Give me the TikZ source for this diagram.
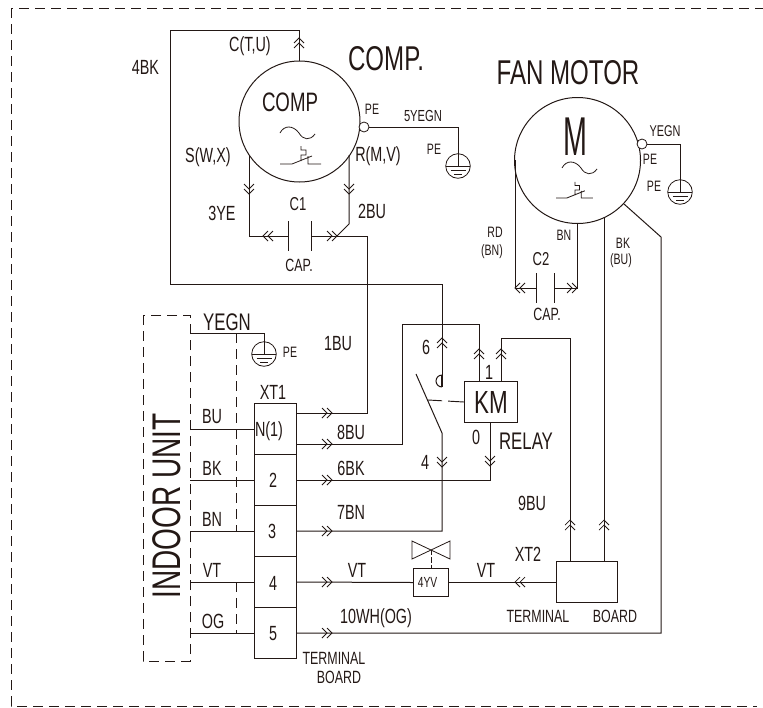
\documentclass[tikz,border=0pt]{standalone}
\usepackage{fontspec}
\setmainfont[FakeStretch=0.7]{Liberation Sans}
\definecolor{ink}{HTML}{231815}
\tikzset{
  x=0.75pt,y=-0.75pt,
  wire/.style={draw=ink,line width=0.75pt},
  dash wire/.style={draw=ink,line width=0.65pt,dash pattern=on 7.5pt off 4.5pt},
  box/.style={draw=ink,line width=0.75pt,fill=white,inner sep=0pt,minimum width=0pt},
  lab/.style={text=ink,inner sep=0pt,font=\fontsize{15.4}{17}\selectfont},
  small/.style={text=ink,inner sep=0pt,font=\fontsize{11.3}{13}\selectfont},
  term/.style={text=ink,inner sep=0pt,font=\fontsize{13.3}{15}\selectfont},
  big/.style={text=ink,inner sep=0pt,font=\fontsize{25.8}{28}\selectfont},
  chev/.pic={\draw[ink,line width=0.55pt] (-5,-5)--(0,0)--(-5,5) (-10,-5)--(-5,0)--(-10,5);},
  gnd/.pic={
    \draw[ink,line width=0.6pt] (0,0) circle (12.3);
    \draw[ink,line width=0.6pt] (-12,0)--(12,0) (-7.5,4)--(7.5,4) (-4,8)--(4,8);
    \draw[ink,line width=0.6pt] (0,-14)--(0,0);},
  thermal/.pic={
    \draw[ink,line width=0.6pt] (0,0)--(12,0)--(32,-8) (28,-8)--(28,0)--(41,0)
      (21,-18)--(21,-14)--(26,-14)--(26,-9)--(21,-9)--(21,-3);},
  wave/.pic={
    \draw[ink,line width=0.6pt] (0,0) .. controls (4,-8) and (13,-8) .. (19,0) .. controls (23,7) and (30,8) .. (35,1);},
}
\begin{document}
\begin{tikzpicture}
\useasboundingbox (0,0) rectangle (763,707);
% outer border (open on the right)
\coordinate (bt) at (763,8);
\coordinate (btl) at (11,8);
\coordinate (bbl) at (11,706);
\coordinate (bb) at (757,706);
\draw[dash wire,dash phase=6pt] (btl)--(bt);
\draw[dash wire] (btl)--(bbl)--(bb);
% compressor
\node[circle,draw=ink,line width=0.75pt,minimum size=90.75pt,inner sep=0pt] (comp) at (299.5,121.5) {};
\node[big,font=\fontsize{20}{22}\selectfont] (comptxt) at (290,102) {COMP};
\pic at (280,133) {wave};
\pic at (280,164) {thermal};
\node[circle,draw=ink,fill=white,line width=0.6pt,minimum size=7.5pt,inner sep=0pt] (comppe) at (364,127) {};
\coordinate (cgnd) at (458,166);
\coordinate (cgndtop) at (458,127);
\pic at (cgnd) {gnd};
\draw[wire] (comppe) -- (cgndtop) -- (cgnd);
% 4BK
\coordinate (ctop) at (299,61);
\coordinate (a1) at (299,30.5);
\coordinate (a2) at (170,30.5);
\coordinate (a3) at (170,284);
\coordinate (a4) at (442,284);
\coordinate (a5) at (442,387);
\draw[wire] (ctop)--(a1)--(a2)--(a3)--(a4)--(a5);
\pic[rotate=90] at (299,38) {chev};
\draw[ink,line width=0.75pt] (442,387) arc[start angle=90,end angle=270,radius=6];
\draw[ink,line width=1.1pt] (442,375)--(442,387);
% C1
\coordinate (s1) at (249,155);
\coordinate (s2) at (249,236);
\coordinate (p1) at (288,236);
\coordinate (p2) at (311,236);
\coordinate (r1) at (349,155);
\coordinate (r2) at (349,224);
\coordinate (r3) at (337,236);
\coordinate (b1) at (367,236);
\coordinate (b2) at (367,413);
\coordinate (t1a) at (296,413);
\draw[wire] (s1)--(s2)--(p1);
\draw[wire] (288,221)--(288,251) (311,221)--(311,251);
\draw[wire] (p2)--(b1)--(b2)--(t1a);
\draw[wire] (r1)--(r2)--(r3);
\pic[rotate=-90] at (249,194) {chev};
\pic[rotate=-90] at (349,194) {chev};
\pic[rotate=180] at (263,236) {chev};
\pic at (337,236) {chev};
% fan motor
\node[circle,draw=ink,line width=0.75pt,minimum size=94.5pt,inner sep=0pt] (fan) at (577.5,160.5) {};
\node[text=ink,inner sep=0pt,font=\fontsize{41}{44}\selectfont,transform shape,xscale=0.75] (fantxt) at (575,137) {M};
\pic at (562,168) {wave};
\pic[scale=0.9] at (556,198) {thermal};
\node[circle,draw=ink,fill=white,line width=0.6pt,minimum size=7.5pt,inner sep=0pt] (fanpe) at (642,144) {};
\coordinate (fgnd) at (680,192);
\coordinate (fgndtop) at (680,144);
\pic at (fgnd) {gnd};
\draw[wire] (fanpe)--(fgndtop)--(fgnd);
\coordinate (f1) at (515,160);
\coordinate (f2) at (515,288);
\coordinate (f3) at (536,288);
\coordinate (f4) at (554,288);
\coordinate (f5) at (577,288);
\coordinate (f6) at (577,224);
\draw[wire] (f1)--(f2)--(f3) (f4)--(f5)--(f6);
\draw[wire] (536,273)--(536,303) (554,273)--(554,303);
\pic[rotate=180] at (515,288) {chev};
\pic at (577,288) {chev};
% indoor unit
\draw[dash wire] (143,315) rectangle (190,661);
\coordinate (igt) at (190,333);
\coordinate (igc) at (264,333);
\coordinate (ignd) at (264,354);
\pic at (ignd) {gnd};
\draw[wire] (igt)--(igc)--(ignd);
\draw[dash wire] (236,333)--(236,531) (236,582)--(236,633);
% terminal block
\node[box,minimum width=31.5pt,minimum height=38.25pt,anchor=north west] (t1) at (254,403) {};
\node[box,minimum width=31.5pt,minimum height=38.25pt,anchor=north west] (t2) at (254,454) {};
\node[box,minimum width=31.5pt,minimum height=38.25pt,anchor=north west] (t3) at (254,505) {};
\node[box,minimum width=31.5pt,minimum height=38.25pt,anchor=north west] (t4) at (254,556) {};
\node[box,minimum width=31.5pt,minimum height=38.25pt,anchor=north west] (t5) at (254,607) {};
\foreach \yy/\nm in {429/t1,480/t2,531/t3,582/t4,633/t5}
  \draw[wire] (190,\yy)--(\nm.west|-0,\yy);
\foreach \yy in {413,444,480,531,582,633}
  \pic at (332,\yy) {chev};
% relay
\node[box,minimum width=39.75pt,minimum height=30.75pt,anchor=north west] (km) at (464,381) {};
\node[text=ink,inner sep=0pt,font=\fontsize{24}{26}\selectfont] at (km) {KM};
\coordinate (e1) at (296,444);
\coordinate (e2) at (402,444);
\coordinate (e3) at (402,324);
\coordinate (e4) at (479,324);
\coordinate (e5) at (479,381);
\draw[wire] (e1)--(e2)--(e3)--(e4)--(e5);
\coordinate (n1) at (501,381);
\coordinate (n2) at (501,338);
\coordinate (n3) at (570,338);
\coordinate (n4) at (570,561);
\draw[wire] (n1)--(n2)--(n3)--(n4);
\pic[rotate=90] at (442,338) {chev};
\pic[rotate=90] at (479,349) {chev};
\pic[rotate=90] at (501,349) {chev};
\coordinate (k1) at (296,480);
\coordinate (k2) at (490,480);
\coordinate (k3) at (490,422);
\draw[wire] (k1)--(k2)--(k3);
\pic[rotate=-90] at (490,466) {chev};
\coordinate (g1) at (296,531);
\coordinate (g2) at (442,531);
\coordinate (g3) at (442,433);
\coordinate (g4) at (416,374);
\draw[wire] (g1)--(g2)--(g3)--(g4);
\pic[rotate=-90] at (442,467) {chev};
\coordinate (sw) at (428,400);
\draw[ink,line width=0.7pt,dash pattern=on 12pt off 4.5pt] (km.west)--(sw);
% valve
\node[box,minimum width=26.25pt,minimum height=21pt,anchor=north west] (yv) at (413,568) {};
\node[text=ink,inner sep=0pt,font=\fontsize{11}{12}\selectfont] at (427.5,582) {4YV};
\coordinate (vc) at (431,550);
\draw[wire,line width=0.6pt] (412,541)--(450,559)--(450,541)--(412,559)--cycle;
\draw[ink,line width=0.6pt,dash pattern=on 4pt off 1.5pt] (vc)--(431,568);
\node[box,minimum width=45.75pt,minimum height=30.75pt,anchor=north west] (tb) at (556,561) {};
\coordinate (v1) at (296,582);
\draw[wire] (v1)--(yv.west);
\coordinate (v2) at (yv.east);
\draw[wire] (v2)--(tb.west|-v2);
\pic[rotate=180] at (515,582) {chev};
\coordinate (m1) at (604,561);
\coordinate (m2) at (604,218);
\draw[wire] (m1)--(m2);
\pic[rotate=90] at (570,520) {chev};
\pic[rotate=90] at (604,520) {chev};
% 10WH
\coordinate (w1) at (296,633);
\coordinate (w2) at (661,633);
\coordinate (w3) at (661,237);
\coordinate (w4) at (624,204);
\draw[wire] (w1)--(w2)--(w3)--(w4);
% labels
\node[lab] at (250,46) {C(T,U)};
\node[lab] at (145.5,67) {4BK};
\node[big] at (386,59) {COMP.};
\node[big] at (568,73) {FAN MOTOR};
\node[small] at (372,109) {PE};
\node[text=ink,inner sep=0pt,font=\fontsize{12}{14}\selectfont] at (423,116) {5YEGN};
\node[small] at (434,149) {PE};
\node[lab] at (208,157) {S(W,X)};
\node[lab] at (378,156) {R(M,V)};
\node[lab] at (222,213) {3YE};
\node[lab] at (372,211) {2BU};
\node[lab,font=\fontsize{14}{16}\selectfont] at (298,204) {C1};
\node[term] at (299,265) {CAP.};
\node[text=ink,inner sep=0pt,font=\fontsize{11.7}{14}\selectfont] at (665,131) {YEGN};
\node[small] at (650,159) {PE};
\node[small] at (654,186) {PE};
\node[small] at (564,235) {BN};
\node[small] at (495,232) {RD};
\node[small] at (492,252) {(BN)};
\node[small] at (623,243) {BK};
\node[small] at (621,261) {(BU)};
\node[lab,font=\fontsize{14}{16}\selectfont] at (541,259) {C2};
\node[term] at (547,314) {CAP.};
\node[lab,font=\fontsize{18}{20}\selectfont] at (227,322) {YEGN};
\node[small] at (290,352) {PE};
\node[lab] at (338,344) {1BU};
\node[lab] at (273,392) {XT1};
\node[lab] at (212,417) {BU};
\node[lab] at (212,468) {BK};
\node[lab] at (212,519) {BN};
\node[lab] at (212,570) {VT};
\node[lab] at (213,621) {OG};
\node[lab] at (269,431) {N(1)};
\node[lab] at (273,480) {2};
\node[lab] at (272,531) {3};
\node[lab] at (273,583) {4};
\node[lab] at (273,634) {5};
\node[lab] at (351,432) {8BU};
\node[lab] at (351,468) {6BK};
\node[lab] at (351,512) {7BN};
\node[lab] at (357,570) {VT};
\node[lab] at (376,618) {10WH(OG)};
\node[term] at (334,658) {TERMINAL};
\node[term] at (339,677) {BOARD};
\node[lab] at (426,347) {6};
\node[lab] at (425,462) {4};
\node[lab] at (489,372) {1};
\node[lab] at (476,437) {0};
\node[lab,font=\fontsize{18}{20}\selectfont] at (526,441) {RELAY};
\node[lab] at (532,503) {9BU};
\node[lab] at (528,554) {XT2};
\node[lab] at (486,570) {VT};
\node[term] at (538,616) {TERMINAL};
\node[term] at (615,616) {BOARD};
\node[text=ink,inner sep=0pt,font=\fontsize{30}{32}\selectfont,rotate=90] (iu) at (167,506) {INDOOR UNIT};
\end{tikzpicture}
\end{document}
